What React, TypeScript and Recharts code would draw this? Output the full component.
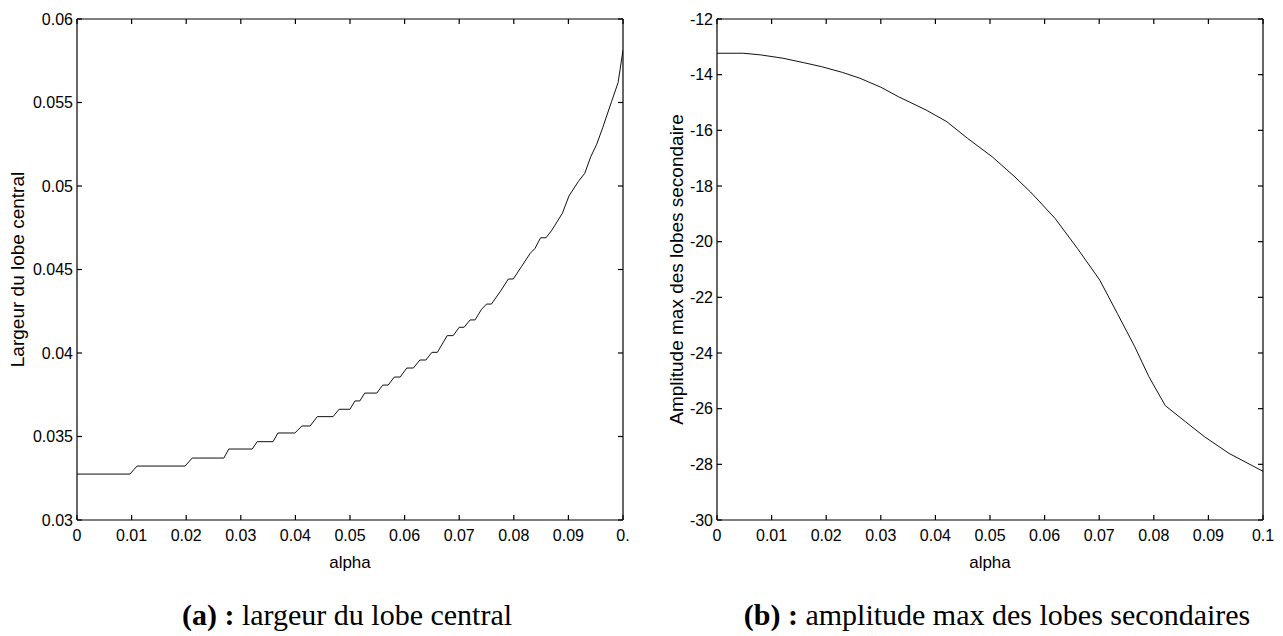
import React from 'react';
import { LineChart, Line, XAxis, YAxis } from 'recharts';

// (a) largeur du lobe central
const alphaA = [
  0, 0.0097, 0.011, 0.0198, 0.0211, 0.0269, 0.0278, 0.0321, 0.033, 0.0359,
  0.0368, 0.0399, 0.0412, 0.0427, 0.044, 0.0469, 0.048, 0.05, 0.0509, 0.0518,
  0.0527, 0.0549, 0.056, 0.057, 0.0581, 0.0592, 0.0604, 0.0616, 0.0628, 0.0639,
  0.065, 0.066, 0.0678, 0.0689, 0.07, 0.0709, 0.072, 0.0729, 0.0741, 0.075,
  0.0759, 0.0775, 0.079, 0.0799, 0.0814, 0.083, 0.0839, 0.0849, 0.0859, 0.0869,
  0.0889, 0.0901, 0.0918, 0.093, 0.0941, 0.0952, 0.0963, 0.0979, 0.0991, 0.1,
];
const largeur = [
  0.03275, 0.03275, 0.03323, 0.03323, 0.03371, 0.03371, 0.03425, 0.03425, 0.03469, 0.03469,
  0.03521, 0.03521, 0.03563, 0.03563, 0.03619, 0.03619, 0.03663, 0.03663, 0.03713, 0.03713,
  0.0376, 0.0376, 0.03808, 0.03808, 0.03856, 0.03856, 0.0391, 0.0391, 0.03958, 0.03958,
  0.04004, 0.04004, 0.04104, 0.04104, 0.04154, 0.04154, 0.04198, 0.04198, 0.04262, 0.04293,
  0.04293, 0.04367, 0.04443, 0.04443, 0.04517, 0.04597, 0.04627, 0.0469, 0.0469, 0.04732,
  0.04837, 0.0494, 0.05026, 0.05076, 0.05176, 0.05251, 0.05351, 0.05505, 0.05619, 0.05814,
];

// (b) amplitude max des lobes secondaires (dB)
const alphaB = [
  0, 0.0048, 0.008, 0.0121, 0.0159, 0.0191, 0.023, 0.0262, 0.03, 0.0332,
  0.0383, 0.0421, 0.0459, 0.0504, 0.0542, 0.0574, 0.0619, 0.066, 0.0701, 0.0733,
  0.0765, 0.0791, 0.0821, 0.0858, 0.0893, 0.0938, 0.1,
];
const amplitude = [
  -13.23, -13.23, -13.29, -13.41, -13.57, -13.71, -13.92, -14.13, -14.45, -14.79,
  -15.27, -15.69, -16.29, -16.95, -17.61, -18.21, -19.16, -20.24, -21.38, -22.57,
  -23.77, -24.85, -25.89, -26.47, -27.01, -27.61, -28.25,
];

const xTicks = [0, 0.01, 0.02, 0.03, 0.04, 0.05, 0.06, 0.07, 0.08, 0.09, 0.1];
const yTicksA = [0.03, 0.035, 0.04, 0.045, 0.05, 0.055, 0.06];
const yTicksB = [-30, -28, -26, -24, -22, -20, -18, -16, -14, -12];

const dataA = alphaA.map((a, i) => ({ alpha: a, v: largeur[i] }));
const dataB = alphaB.map((a, i) => ({ alpha: a, v: amplitude[i] }));

const SANS = '"Liberation Sans", Arial, sans-serif';
const SERIF = '"Liberation Serif", "Times New Roman", serif';
const tickStyle = { fill: '#000', fontSize: 16, fontFamily: SANS };
const axisStroke = { stroke: '#000', strokeWidth: 1.2 };
const blank = () => '';

interface PanelProps {
  data: { alpha: number; v: number }[];
  yDomain: [number, number];
  yTicks: number[];
  yLabel: string;
  yLabelOffset: number;
  xFormat: (v: number) => string;
}

const Panel: React.FC<PanelProps> = ({ data, yDomain, yTicks, yLabel, yLabelOffset, xFormat }) => (
  <LineChart width={640} height={600} data={data} margin={{ top: 18, right: 16, left: 0, bottom: 20 }}>
    <XAxis
      dataKey="alpha"
      type="number"
      domain={[0, 0.1]}
      ticks={xTicks}
      interval={0}
      allowDataOverflow
      height={60}
      tickSize={-5}
      tickMargin={15}
      tick={tickStyle}
      tickFormatter={xFormat}
      axisLine={axisStroke}
      tickLine={axisStroke}
      label={{ value: 'alpha', position: 'insideBottom', offset: 12, fill: '#000', fontSize: 17, fontFamily: SANS }}
    />
    <XAxis
      xAxisId="top"
      orientation="top"
      dataKey="alpha"
      type="number"
      domain={[0, 0.1]}
      ticks={xTicks}
      interval={0}
      allowDataOverflow
      height={1}
      tickSize={-5}
      tick={tickStyle}
      tickFormatter={blank}
      axisLine={axisStroke}
      tickLine={axisStroke}
    />
    <YAxis
      type="number"
      domain={yDomain}
      ticks={yTicks}
      interval={0}
      allowDataOverflow
      width={77}
      tickSize={-5}
      tickMargin={9}
      tick={tickStyle}
      tickFormatter={(v: number) => String(v)}
      axisLine={axisStroke}
      tickLine={axisStroke}
      label={{
        value: yLabel,
        angle: -90,
        position: 'insideLeft',
        offset: yLabelOffset,
        fill: '#000',
        fontSize: 19,
        fontFamily: SANS,
        style: { textAnchor: 'middle' },
      }}
    />
    <YAxis
      yAxisId="right"
      orientation="right"
      type="number"
      domain={yDomain}
      ticks={yTicks}
      interval={0}
      allowDataOverflow
      width={1}
      tickSize={-5}
      tick={tickStyle}
      tickFormatter={blank}
      axisLine={axisStroke}
      tickLine={axisStroke}
    />
    <Line
      type="linear"
      dataKey="v"
      stroke="#111"
      strokeWidth={1}
      dot={false}
      activeDot={false}
      isAnimationActive={false}
    />
  </LineChart>
);

const captionStyle: React.CSSProperties = {
  position: 'absolute',
  top: 600,
  width: 640,
  textAlign: 'center',
  fontFamily: SERIF,
  fontSize: 30,
  lineHeight: '30px',
  color: '#000',
  whiteSpace: 'nowrap',
};

export default function App() {
  return (
    <div
      style={{
        position: 'absolute',
        left: 0,
        top: 0,
        width: 1283,
        height: 636,
        background: '#fff',
        overflow: 'hidden',
        fontFamily: SANS,
      }}
    >
      <div style={{ position: 'absolute', left: 0, top: 0 }}>
        <Panel
          data={dataA}
          yDomain={[0.03, 0.06]}
          yTicks={yTicksA}
          yLabel="Largeur du lobe central"
          yLabelOffset={17}
          xFormat={(v: number) => (v === 0.1 ? '0.' : String(v))}
        />
      </div>
      <div style={{ position: 'absolute', left: 640, top: 0 }}>
        <Panel
          data={dataB}
          yDomain={[-30, -12]}
          yTicks={yTicksB}
          yLabel="Amplitude max des lobes secondaire"
          yLabelOffset={36}
          xFormat={(v: number) => String(v)}
        />
      </div>
      <div style={{ ...captionStyle, left: 27 }}>
        <b>(a) :</b> largeur du lobe central
      </div>
      <div style={{ ...captionStyle, left: 677 }}>
        <b>(b) :</b> amplitude max des lobes secondaires
      </div>
    </div>
  );
}
